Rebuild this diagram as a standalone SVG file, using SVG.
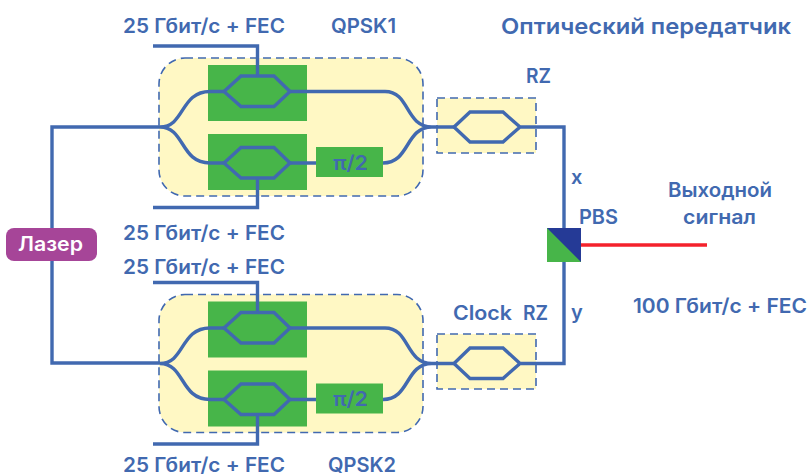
<svg xmlns="http://www.w3.org/2000/svg" width="811" height="476" viewBox="0 0 811 476">
<style>
.t{font-family:Inter,"Noto Sans","DejaVu Sans",sans-serif;font-weight:600;fill:#4169b0;font-size:20px}
.b{fill:#fff8c4;stroke:#4169b0;stroke-width:1.6;stroke-dasharray:8 5}
.g{fill:#47b549}
.l{fill:none;stroke:#4169b0;stroke-width:3.4}
</style>
<defs>
<g id="mod">
<rect class="b" x="159" y="58" width="264" height="138" rx="26"/>
<rect class="g" x="208" y="65" width="99" height="56"/>
<rect class="g" x="208" y="134" width="99" height="56"/>
<rect class="g" x="316" y="147" width="67" height="30"/>
</g>
<g id="mzm"><path class="l" d="M224 91.500 241 76H274L290 91.500 274 106.500H241Z"/></g>
<g id="rz">
<rect class="b" x="437" y="98" width="99" height="55"/>
</g>
</defs>
<g id="qpsk1"><use href="#mod"/></g>
<g id="qpsk2"><use href="#mod" y="236.500"/></g>
<g id="rz1"><use href="#rz"/></g>
<g id="rz2"><use href="#rz" y="236"/></g>
<g id="connectors">
<path class="l" d="M160 127H52V363H160"/>
<g id="top">
<path class="l" d="M160 127C185 127 180 91.500 210 91.500H224M160 127C185 127 180 163 210 163H224M290 91.500H385C410 91.500 405 127 432 127H454M290 163H316M383 163C410 163 405 127 432 127"/>
<path class="l" d="M153 46H257.500V76M153 207.500H257.500V178"/>
<use href="#mzm"/><use href="#mzm" y="71.500"/>
</g>
<g id="bottom">
<path class="l" d="M160 363.500C185 363.500 180 328 210 328H224M160 363.500C185 363.500 180 399.500 210 399.500H224M290 328H385C410 328 405 363.500 432 363.500H454M290 399.500H316M383 399.500C410 399.500 405 363.500 432 363.500"/>
<path class="l" d="M153 282.500H257.500V312M153 444H257.500V414"/>
<use href="#mzm" y="236.500"/><use href="#mzm" y="308"/>
</g>
<path class="l" d="M454 127 470 112H503L520 127 503 142H470ZM520 127H564V228"/>
<path class="l" d="M454 363.500 470 348H503L520 363.500 503 378.500H470ZM520 363.500H564V262"/>
<path d="M581 245H707" fill="none" stroke="#f4222c" stroke-width="3.4"/>
</g>
<g id="pbs"><rect x="547" y="228" width="34" height="34" fill="#47b549"/><path d="M547 228H581V262Z" fill="#253a96"/></g>
<g id="laser"><rect x="6" y="228" width="91" height="33" rx="8" fill="#a64598"/><text x="18" y="251" class="t" style="fill:#fff" textLength="65" lengthAdjust="spacingAndGlyphs">Лазер</text></g>
<g id="labels">
<text class="t" x="123" y="33" textLength="162" lengthAdjust="spacingAndGlyphs">25 Гбит/с + FEC</text>
<text class="t" x="331" y="33" textLength="65" lengthAdjust="spacingAndGlyphs">QPSK1</text>
<text class="t" x="501" y="34" style="font-size:22px" textLength="290" lengthAdjust="spacingAndGlyphs">Оптический передатчик</text>
<text class="t" x="526" y="83" textLength="25" lengthAdjust="spacingAndGlyphs">RZ</text>
<text class="t" x="571" y="184">x</text>
<text class="t" x="579" y="224" textLength="39" lengthAdjust="spacingAndGlyphs">PBS</text>
<text class="t" x="668" y="197" textLength="104" lengthAdjust="spacingAndGlyphs">Выходной</text>
<text class="t" x="683" y="224" textLength="73" lengthAdjust="spacingAndGlyphs">сигнал</text>
<text class="t" x="123" y="240" textLength="162" lengthAdjust="spacingAndGlyphs">25 Гбит/с + FEC</text>
<text class="t" x="123" y="274" textLength="162" lengthAdjust="spacingAndGlyphs">25 Гбит/с + FEC</text>
<text class="t" x="453" y="320" textLength="59" lengthAdjust="spacingAndGlyphs">Clock</text>
<text class="t" x="523" y="320" textLength="25" lengthAdjust="spacingAndGlyphs">RZ</text>
<text class="t" x="571" y="319">y</text>
<text class="t" x="633" y="313" textLength="174" lengthAdjust="spacingAndGlyphs">100 Гбит/с + FEC</text>
<text class="t" x="123" y="472" textLength="162" lengthAdjust="spacingAndGlyphs">25 Гбит/с + FEC</text>
<text class="t" x="328" y="472" textLength="68" lengthAdjust="spacingAndGlyphs">QPSK2</text>
<text class="t" x="333" y="170" textLength="35" lengthAdjust="spacingAndGlyphs">π/2</text>
<text class="t" x="333" y="406" textLength="35" lengthAdjust="spacingAndGlyphs">π/2</text>
</g>
</svg>
